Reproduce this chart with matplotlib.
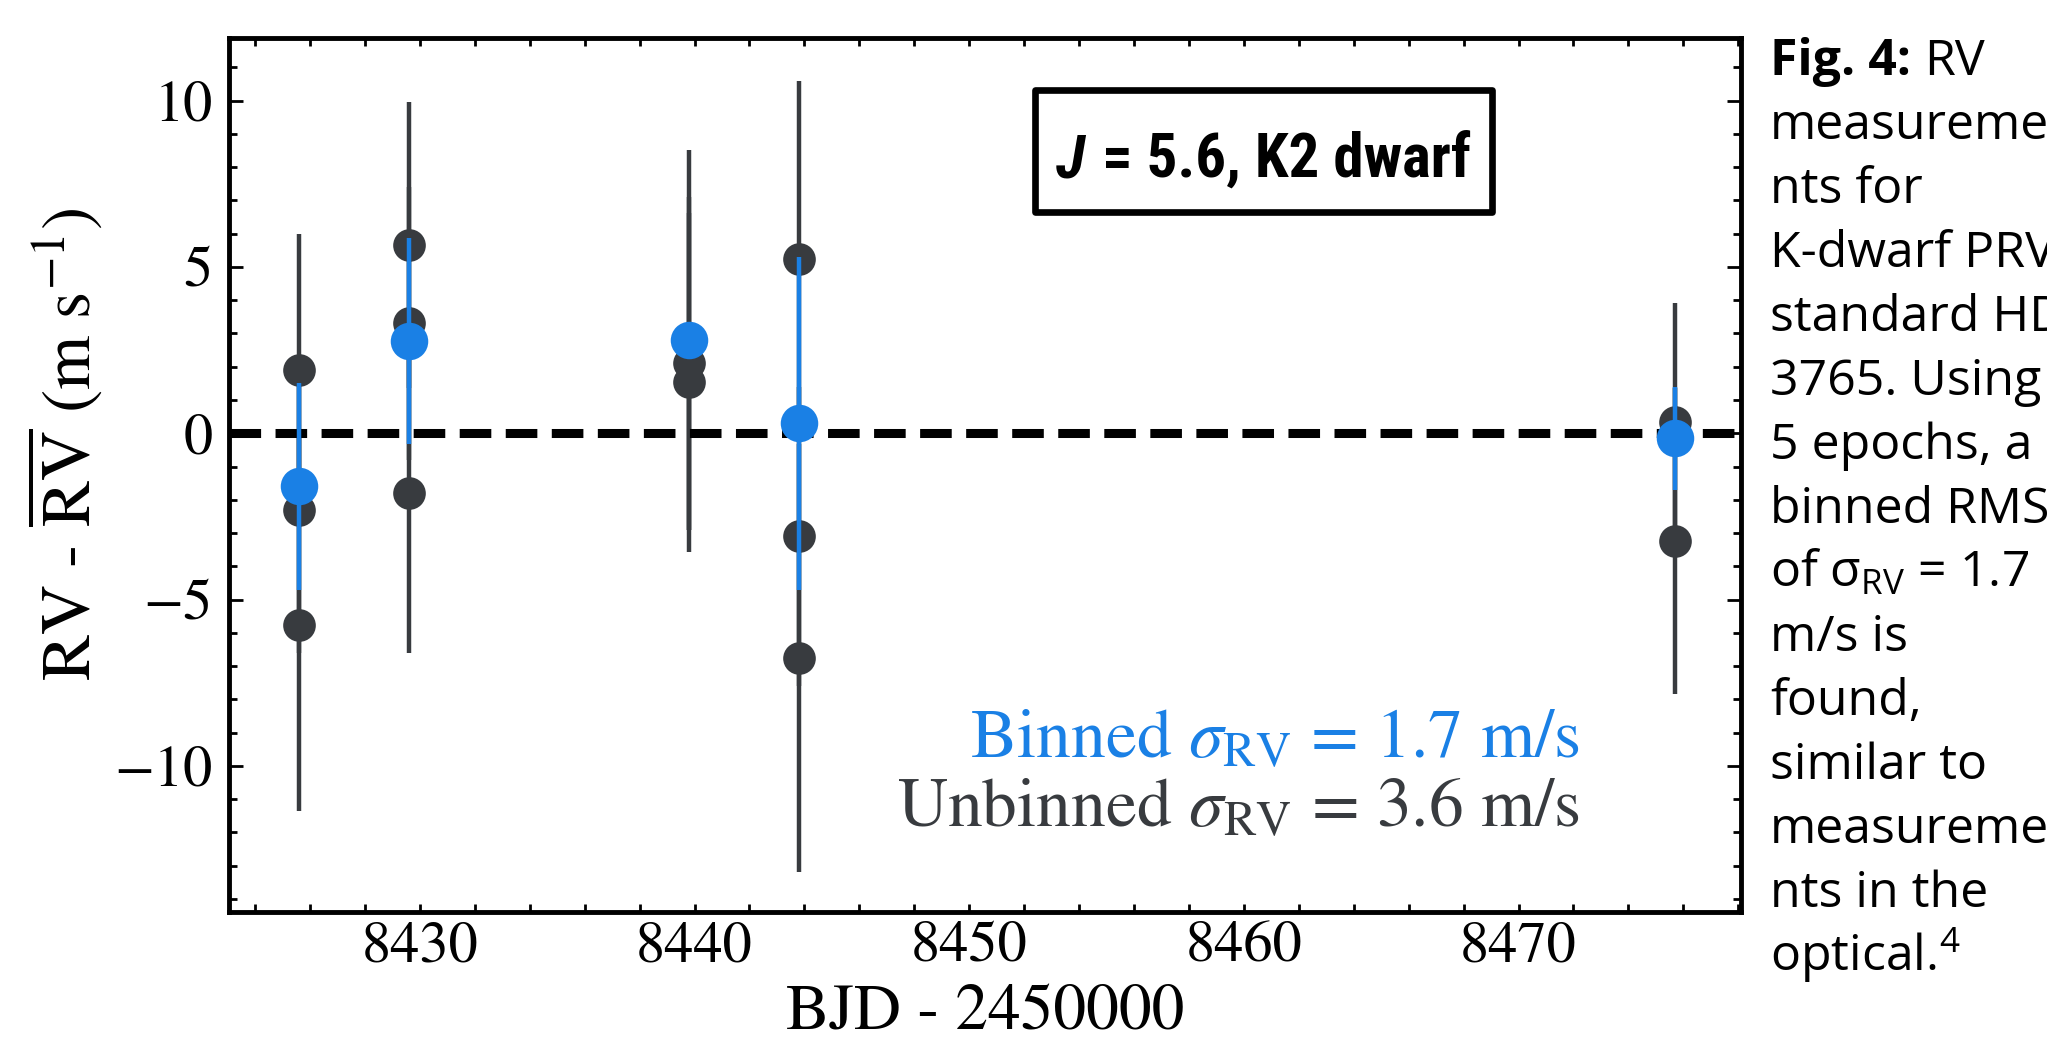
import matplotlib
matplotlib.use('Agg')
import matplotlib.pyplot as plt
from matplotlib import font_manager as fm
from matplotlib.patches import Rectangle
from matplotlib.ticker import MultipleLocator

# ---- data ----
# binned epochs, BJD - 2450000
epoch_t = [8425.6, 8429.6, 8439.8, 8443.8, 8475.7]
bin_rv = [-1.6, 2.78, 2.8, 0.3, -0.15]
bin_err = [3.1, 3.1, 0.3, 5.0, 1.55]

# unbinned points
unb_t = [8425.6, 8425.6, 8425.6,
         8429.6, 8429.6, 8429.6,
         8439.8, 8439.8, 8439.8,
         8443.8, 8443.8, 8443.8,
         8475.7, 8475.7]
unb_rv = [1.9, -2.3, -5.75,
          5.67, 3.3, -1.8,
          2.8, 2.1, 1.53,
          5.25, -3.1, -6.75,
          0.35, -3.25]
unb_err = [4.1, 4.3, 5.6,
           4.3, 4.1, 4.8,
           5.7, 5.0, 5.1,
           5.35, 4.5, 6.43,
           3.55, 4.6]

binned_label = r'Binned $\sigma_{\rm RV}$ = 1.7 m/s'
unbinned_label = r'Unbinned $\sigma_{\rm RV}$ = 3.6 m/s'

caption = ['measureme', 'nts for', 'K-dwarf PRV', 'standard HD',
           '3765. Using', '5 epochs, a', 'binned RMS',
           r'of $\mathrm{\sigma}_{\mathrm{RV}}$ = 1.7', 'm/s is', 'found,',
           'similar to', 'measureme', 'nts in the', r'optical.$^{4}$']

blue = '#1a80e5'
dark = '#383b3f'

W, H = 2047, 1041
plt.rcParams['font.family'] = 'STIXGeneral'
plt.rcParams['axes.unicode_minus'] = True
plt.rcParams['mathtext.fontset'] = 'custom'
plt.rcParams['mathtext.rm'] = 'Open Sans'
plt.rcParams['mathtext.it'] = 'Open Sans:italic'
plt.rcParams['mathtext.bf'] = 'Open Sans:bold'

names = {f.name for f in fm.fontManager.ttflist}
box_font = 'Roboto'
for n in ['Liberation Sans Narrow', 'Roboto Condensed', 'Open Sans Condensed', 'DejaVu Sans Condensed']:
    if n in names:
        box_font = n
        break

fig = plt.figure(figsize=(W / 100, H / 100), dpi=100)
ax = fig.add_axes([229 / W, 1 - 912 / H, (1741 - 229) / W, (912 - 38) / H])

ax.errorbar(unb_t, unb_rv, yerr=unb_err, fmt='none', ecolor=dark, elinewidth=3.2, capsize=0, zorder=2)
ax.axhline(0, color='black', lw=6.5, ls=(0, (3.5, 1.6)), zorder=3)
ax.plot(unb_t, unb_rv, 'o', color=dark, ms=23.5, mew=0, zorder=4)
ax.errorbar(epoch_t, bin_rv, yerr=bin_err, fmt='none', ecolor=blue, elinewidth=3.2, capsize=0, zorder=5)
ax.plot(epoch_t, bin_rv, 'o', color=blue, ms=27, mew=0, zorder=6)

ax.set_xlim(8423.05, 8478.1)
ax.set_ylim(-14.39, 11.88)
ax.xaxis.set_major_locator(MultipleLocator(10))
ax.xaxis.set_minor_locator(MultipleLocator(2))
ax.yaxis.set_major_locator(MultipleLocator(5))
ax.yaxis.set_minor_locator(MultipleLocator(1))
ax.tick_params(which='both', direction='in', top=True, right=True, width=2, labelsize=42)
ax.tick_params(axis='x', which='both', length=6, pad=7)
ax.tick_params(axis='y', which='major', length=10, pad=12)
ax.tick_params(axis='y', which='minor', length=6)
for s in ax.spines.values():
    s.set_linewidth(3.5)

ax.set_xlabel('BJD - 2450000', fontsize=47)
ax.xaxis.set_label_coords(0.5, -0.083)
ax.set_ylabel(r'RV - $\overline{\rm RV}$ (m s$^{-1}$)', fontsize=50, math_fontfamily='stix')
ax.yaxis.set_label_coords(-0.082, 0.535)

ax.text(0.8935, 0.177, binned_label, color=blue, ha='right', va='baseline', fontsize=50,
        transform=ax.transAxes, math_fontfamily='stix')
ax.text(0.8935, 0.097, unbinned_label, color=dark, ha='right', va='baseline', fontsize=50,
        transform=ax.transAxes, math_fontfamily='stix')

# boxed star label
fig.add_artist(Rectangle((1035 / W, 1 - 212 / H), 457 / W, 122 / H, transform=fig.transFigure,
                         facecolor='white', edgecolor='black', lw=4.8, joinstyle='round', zorder=7))
bs = 60
tj = fig.text(0, 1 - 177 / H, 'J', fontsize=bs, fontweight='bold', fontstyle='italic',
              family=box_font, va='baseline', zorder=8)
tr = fig.text(0, 1 - 177 / H, '= 5.6, K2 dwarf', fontsize=bs, fontweight='bold',
              family=box_font, va='baseline', zorder=8)

# caption on the right
t1 = fig.text(1770 / W, 1 - 75 / H, 'Fig. 4:', fontsize=36, fontweight='bold', family='Open Sans', va='baseline')
t1b = fig.text(0, 1 - 75 / H, 'RV', fontsize=36, family='Open Sans', va='baseline')
for i, line in enumerate(caption):
    fig.text(1770 / W, 1 - (75 + 64 * (i + 1)) / H, line, fontsize=36, family='Open Sans', va='baseline')

fig.canvas.draw()
r = fig.canvas.get_renderer()

gap = 0.28 * bs * 100 / 72
wj = tj.get_window_extent(r).width
wr = tr.get_window_extent(r).width
scale = min(1.0, 415 / (wj + gap + wr))
tj.set_fontsize(bs * scale)
tr.set_fontsize(bs * scale)
gap *= scale
wj = tj.get_window_extent(r).width
wr = tr.get_window_extent(r).width
x0 = 1263.5 - (wj + gap + wr) / 2
tj.set_x(x0 / W)
tr.set_x((x0 + wj + gap) / W)

e1 = t1.get_window_extent(r)
t1b.set_x((e1.x1 + 0.26 * 50) / W)

fig.savefig('out.png', dpi=100)
